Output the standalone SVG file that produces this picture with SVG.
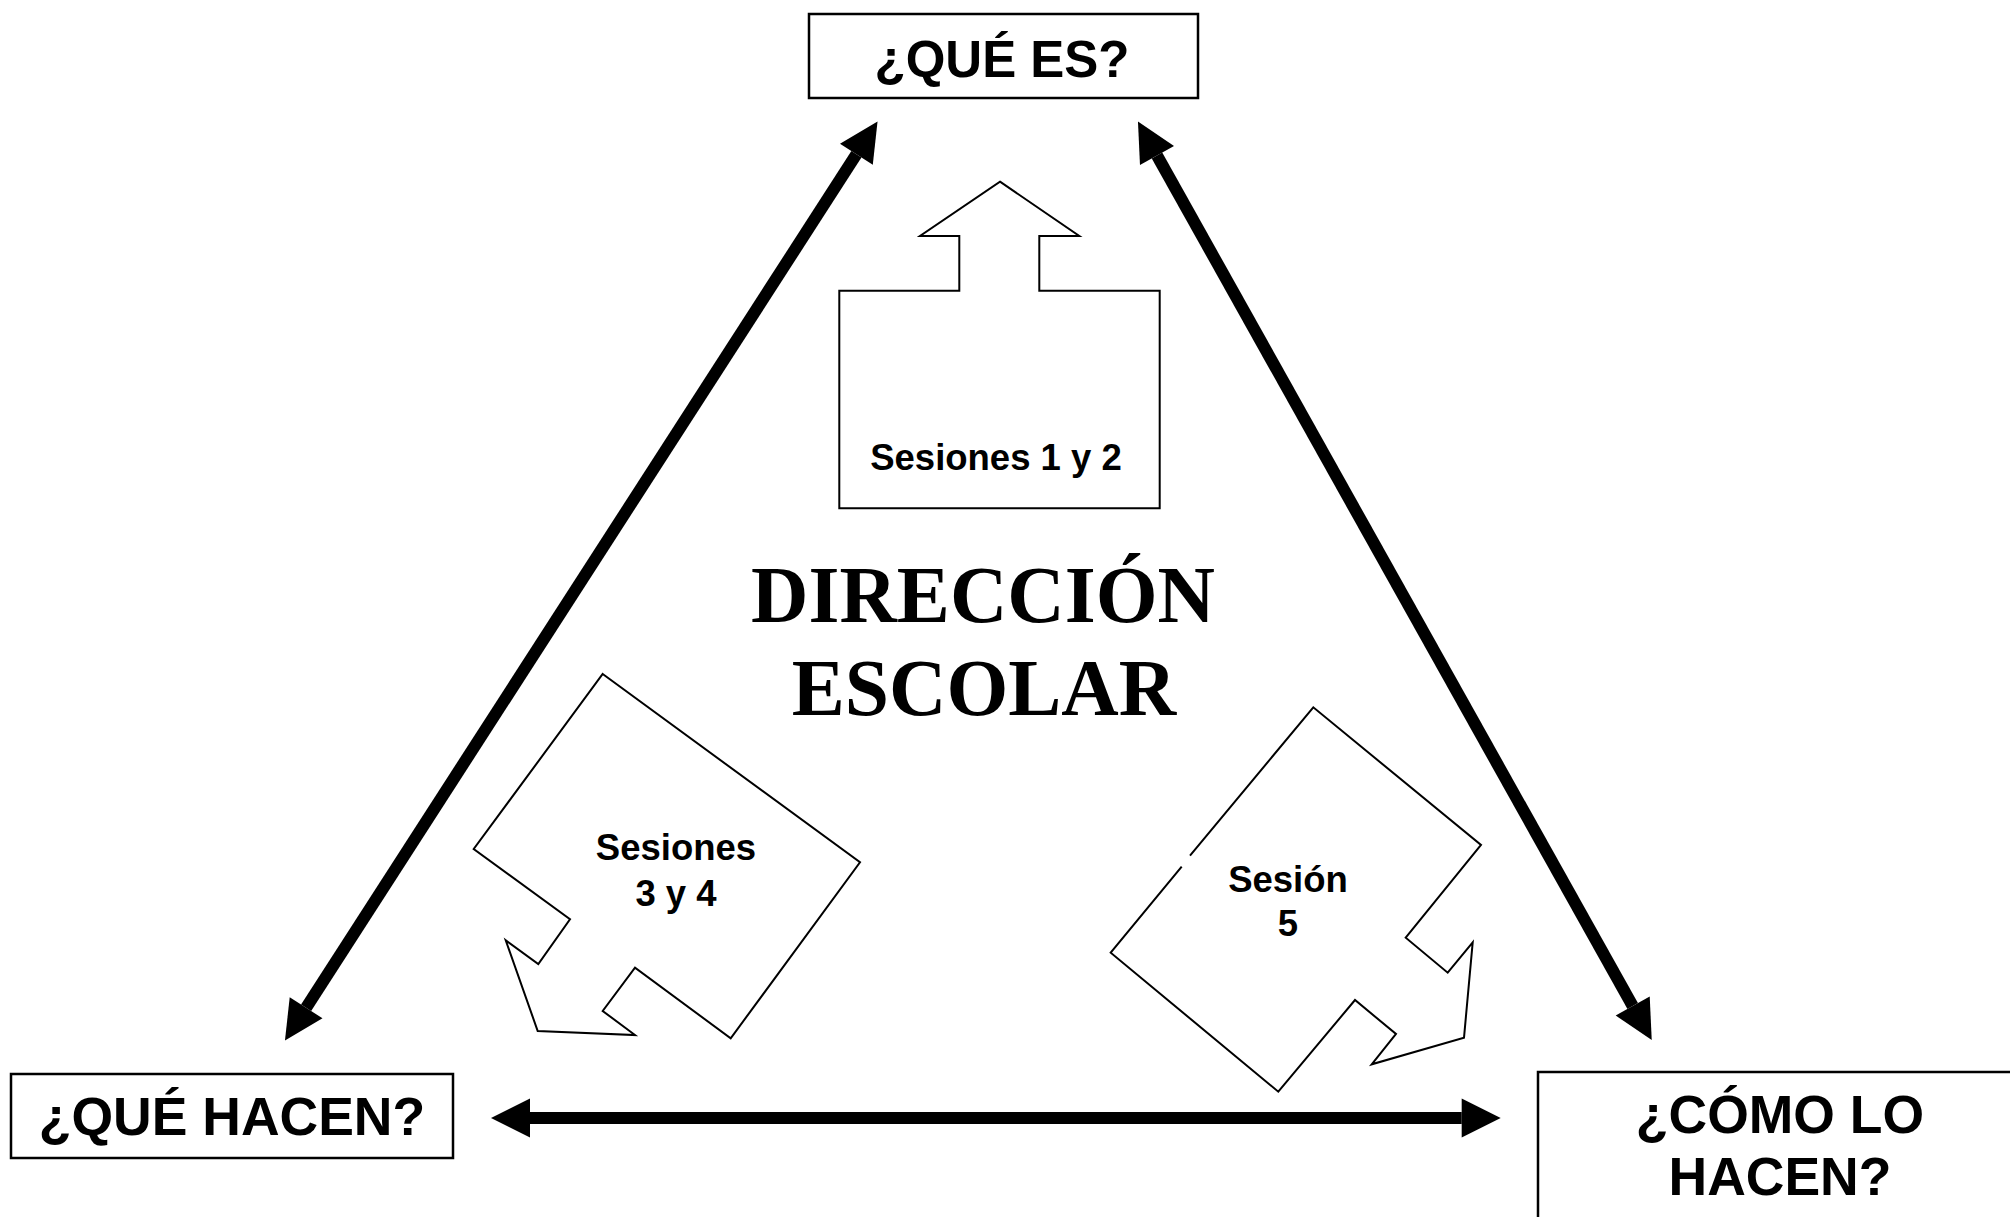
<svg xmlns="http://www.w3.org/2000/svg" width="2010" height="1217" viewBox="0 0 2010 1217">
<style>
.box{fill:#fff;stroke:#000;stroke-width:2.5}
.shape{fill:#fff;stroke:#000;stroke-width:2;stroke-linejoin:miter}
.q{font-family:"Liberation Sans",Arial,sans-serif;font-weight:bold;font-size:53.5px;text-anchor:middle;fill:#000}
.s{font-family:"Liberation Sans",Arial,sans-serif;font-weight:bold;font-size:36.5px;text-anchor:middle;fill:#000}
.t{font-family:"Liberation Serif","Times New Roman",serif;font-weight:bold;font-size:79.5px;text-anchor:middle;fill:#000}
.conn{stroke:#000;stroke-width:12;fill:none;marker-start:url(#head);marker-end:url(#head)}
</style>
<defs>
<marker id="head" markerUnits="userSpaceOnUse" viewBox="0 -20 40 40" refX="0" refY="0" markerWidth="40" markerHeight="40" orient="auto-start-reverse" overflow="visible">
<path d="M0,-19.5 L39,0 L0,19.5 Z" fill="#000"/>
</marker>
</defs>
<rect width="2010" height="1217" fill="#fff"/>

<g id="connectors">
<line class="conn" x1="856.4" y1="154.3" x2="306.1" y2="1007.7"/>
<line class="conn" x1="1157" y1="155.5" x2="1632.7" y2="1006"/>
<line class="conn" x1="530" y1="1118" x2="1461.7" y2="1118"/>
</g>

<g id="que-es">
<rect class="box" x="809" y="14" width="389" height="84"/>
<text class="q" x="1002" y="77" style="font-size:51px">¿QUÉ ES?</text>
</g>

<g id="que-hacen">
<rect class="box" x="11" y="1074" width="442" height="84"/>
<text class="q" x="232" y="1135">¿QUÉ HACEN?</text>
</g>

<g id="como-lo-hacen">
<rect class="box" x="1538" y="1072" width="520" height="200"/>
<text class="q" x="1780" y="1133">¿CÓMO LO</text>
<text class="q" x="1780" y="1195">HACEN?</text>
</g>

<g id="direccion-escolar">
<text class="t" x="983" y="622">DIRECCIÓN</text>
<text class="t" x="984" y="715">ESCOLAR</text>
</g>

<g id="sesiones-1-2">
<path class="shape" d="M1000,181.7 L1079.3,236 L1039.3,236 L1039.3,290.7 L1159.7,290.7 L1159.7,508.3 L839.3,508.3 L839.3,290.7 L959.3,290.7 L959.3,236 L920,236 Z"/>
<text class="s" x="996" y="470">Sesiones 1 y 2</text>
</g>

<g id="sesiones-3-4">
<path class="shape" d="M602.7,674 L860,862.3 L730.7,1038.3 L635,967.7 L602.7,1011 L635,1035 L537.7,1031 L505.7,940.3 L538.3,964 L570,919.3 L473.7,849 Z"/>
<text class="s" x="676" y="860">Sesiones</text>
<text class="s" x="676" y="906">3 y 4</text>
</g>

<g id="sesion-5">
<path d="M1313.3,707.3 L1481,845 L1405.7,937.7 L1447.7,972.7 L1472.7,942.3 L1464,1037.7 L1371.7,1064.3 L1396,1034 L1355,1000 L1278.3,1091.7 L1110.7,952.7 Z" fill="#fff" stroke="none"/>
<path class="shape" d="M1190,855.7 L1313.3,707.3 L1481,845 L1405.7,937.7 L1447.7,972.7 L1472.7,942.3 L1464,1037.7 L1371.7,1064.3 L1396,1034 L1355,1000 L1278.3,1091.7 L1110.7,952.7 L1181.7,866.7" style="fill:none"/>
<text class="s" x="1288" y="892">Sesión</text>
<text class="s" x="1288" y="936">5</text>
</g>
</svg>
